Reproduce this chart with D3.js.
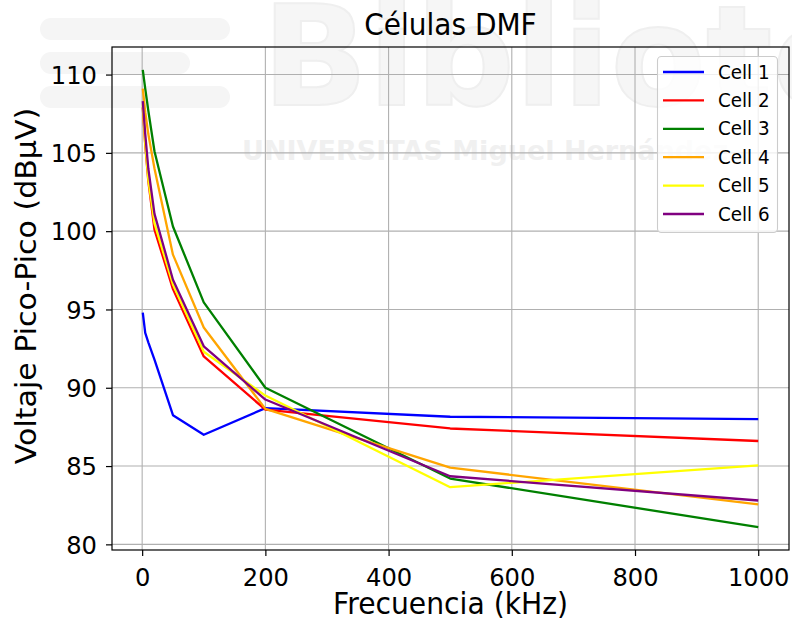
<!DOCTYPE html>
<html>
<head>
<meta charset="utf-8">
<script src="https://cdn.jsdelivr.net/npm/d3@7"></script>
<style>
  html, body { margin: 0; padding: 0; background: #fff; }
  svg { display: block; }
  text { font-family: "DejaVu Sans", sans-serif; }
</style>
</head>
<body>
<svg id="chart" width="792" height="623"></svg>
<script>
// ---- data ----
const freqs = [1, 5, 10, 20, 50, 100, 200, 500, 1000];
const cell1 = [94.8, 93.5, 92.9, 91.8, 88.25, 87.0, 88.7, 88.15, 88.0];
const cell2 = [107.9, 105.5, 103.2, 100.1, 96.3, 92.0, 88.6, 87.4, 86.6];
const cell3 = [110.3, 109.1, 107.7, 105.1, 100.3, 95.45, 90.0, 84.2, 81.1];
const cell4 = [109.1, 107.6, 106.2, 104.0, 98.5, 93.85, 88.65, 84.9, 82.55];
const cell5 = [108.1, 105.6, 103.3, 100.5, 96.6, 92.3, 89.5, 83.65, 85.05];
const cell6 = [108.3, 106.2, 104.0, 101.1, 96.9, 92.65, 89.25, 84.35, 82.8];
const seriesNames = ["Cell 1", "Cell 2", "Cell 3", "Cell 4", "Cell 5", "Cell 6"];
const seriesColors = ["#0000ff", "#ff0000", "#008000", "#ffa500", "#ffff00", "#800080"];
const xTicks = [0, 200, 400, 600, 800, 1000];
const yTicks = [80, 85, 90, 95, 100, 105, 110];
const titleText = "Células DMF";
const xLabel = "Frecuencia (kHz)";
const yLabel = "Voltaje Pico-Pico (dBµV)";
const watermarkMain = "Biblioteca";
const watermarkSub = "UNIVERSITAS Miguel Hernández";

const allSeries = [cell1, cell2, cell3, cell4, cell5, cell6];

// ---- layout ----
const svg = d3.select("#chart");
const plot = { left: 112, right: 789, top: 47, bottom: 550 };
const SY = 1.05; // vertical stretch of glyphs in the reference

// watermark (faint, behind everything)
const wm = svg.append("g").attr("class", "watermark");
wm.append("rect").attr("x", 40).attr("y", 18).attr("width", 190).attr("height", 22).attr("rx", 11).attr("fill", "#f5f5f5");
wm.append("rect").attr("x", 40).attr("y", 52).attr("width", 150).attr("height", 22).attr("rx", 11).attr("fill", "#f5f5f5");
wm.append("rect").attr("x", 40).attr("y", 86).attr("width", 190).attr("height", 22).attr("rx", 11).attr("fill", "#f5f5f5");
wm.append("text").attr("x", 262).attr("y", 105).attr("font-size", 139).attr("font-weight", "bold")
  .attr("font-family", "Liberation Sans, Arial, sans-serif")
  .attr("fill", "#f6f6f6").attr("stroke", "#efefef").attr("stroke-width", 2).text(watermarkMain);
wm.append("text").attr("x", 242).attr("y", 160).attr("font-size", 27).attr("font-weight", "bold")
  .attr("font-family", "DejaVu Serif, serif").attr("fill", "#f0f0f0").text(watermarkSub);

// scales
const xs = d3.extent(freqs);
const xPad = (xs[1] - xs[0]) * 0.05;
const x = d3.scaleLinear().domain([xs[0] - xPad, xs[1] + xPad]).range([plot.left, plot.right]);
const yAll = allSeries.flat();
const ys = d3.extent(yAll);
const yPad = (ys[1] - ys[0]) * 0.05;
const y = d3.scaleLinear().domain([ys[0] - yPad, ys[1] + yPad]).range([plot.bottom, plot.top]);

// grid
const grid = svg.append("g").attr("class", "grid");
grid.selectAll("line.gx").data(xTicks).join("line").attr("class", "gx")
  .attr("x1", d => x(d)).attr("x2", d => x(d)).attr("y1", plot.top).attr("y2", plot.bottom)
  .attr("stroke", "#b0b0b0").attr("stroke-width", 1.1);
grid.selectAll("line.gy").data(yTicks).join("line").attr("class", "gy")
  .attr("y1", d => y(d)).attr("y2", d => y(d)).attr("x1", plot.left).attr("x2", plot.right)
  .attr("stroke", "#b0b0b0").attr("stroke-width", 1.1);

// lines
const line = d3.line().x((d, i) => x(freqs[i])).y(d => y(d));
svg.append("g").attr("class", "series")
  .selectAll("path").data(allSeries).join("path")
  .attr("d", d => line(d))
  .attr("fill", "none")
  .attr("stroke", (d, i) => seriesColors[i])
  .attr("stroke-width", 2.3)
  .attr("stroke-linejoin", "round")
  .attr("stroke-linecap", "butt");

// axes
const xAxis = d3.axisBottom(x).tickValues(xTicks).tickSize(6).tickPadding(6).tickFormat(d3.format("d"));
const yAxis = d3.axisLeft(y).tickValues(yTicks).tickSize(6).tickPadding(6).tickFormat(d3.format("d"));
const gx = svg.append("g").attr("transform", `translate(0,${plot.bottom})`).call(xAxis);
const gy = svg.append("g").attr("transform", `translate(${plot.left},0)`).call(yAxis);
[gx, gy].forEach(g => {
  g.select(".domain").remove();
  g.selectAll(".tick line").attr("stroke", "#000").attr("stroke-width", 1.2);
  g.selectAll(".tick text").attr("fill", "#000").attr("font-size", 24.2)
    .attr("font-family", "DejaVu Sans, sans-serif");
});
gx.selectAll(".tick text").attr("dy", null).attr("y", 0)
  .attr("transform", `translate(0,${586 - plot.bottom}) scale(1,${SY})`);
gy.selectAll(".tick text").attr("dy", null).attr("x", 0)
  .attr("dominant-baseline", "central")
  .attr("transform", `translate(-15,0) scale(1,${SY})`);

// spines
svg.append("rect").attr("x", plot.left).attr("y", plot.top)
  .attr("width", plot.right - plot.left).attr("height", plot.bottom - plot.top)
  .attr("fill", "none").attr("stroke", "#000").attr("stroke-width", 1.2);

// title and labels
svg.append("text").attr("text-anchor", "middle").attr("font-size", 28).attr("fill", "#000")
  .attr("transform", `translate(${(plot.left + plot.right) / 2},35) scale(1,${SY})`).text(titleText);
svg.append("text").attr("text-anchor", "middle").attr("font-size", 28.2).attr("fill", "#000")
  .attr("transform", `translate(${(plot.left + plot.right) / 2},614) scale(1,${SY})`).text(xLabel);
svg.append("text").attr("text-anchor", "middle").attr("font-size", 28.6).attr("fill", "#000")
  .attr("transform", `translate(36,286) rotate(-90) scale(${SY},1)`).text(yLabel);

// legend
const leg = svg.append("g").attr("class", "legend");
leg.append("rect").attr("x", 657.5).attr("y", 56.5).attr("width", 120).attr("height", 176).attr("rx", 4)
  .attr("fill", "#fff").attr("fill-opacity", 0.8).attr("stroke", "#cccccc").attr("stroke-width", 1.1);
const rowY = d3.scaleLinear().domain([0, seriesNames.length - 1]).range([72, 214]);
const rows = leg.selectAll("g.row").data(seriesNames).join("g").attr("class", "row")
  .attr("transform", (d, i) => `translate(0,${rowY(i)})`);
rows.append("line").attr("x1", 663).attr("x2", 704).attr("y1", 0).attr("y2", 0)
  .attr("stroke", (d, i) => seriesColors[i]).attr("stroke-width", 2.3);
rows.append("text").attr("font-size", 18.3).attr("fill", "#000").attr("dominant-baseline", "central")
  .attr("transform", `translate(718,0) scale(1,${SY})`).text(d => d);
</script>
</body>
</html>
